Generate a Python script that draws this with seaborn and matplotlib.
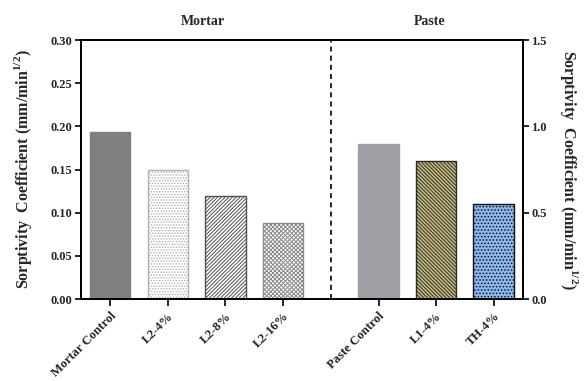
import numpy as np
import pandas as pd
import matplotlib
matplotlib.use("Agg")
import matplotlib.pyplot as plt
import matplotlib.transforms as mtransforms
import seaborn as sns

# Sorptivity coefficients (mm/min^1/2)
mortar_labels = ["Mortar Control", "L2-4%", "L2-8%", "L2-16%"]
mortar_values = [0.193, 0.150, 0.119, 0.088]
paste_labels = ["Paste Control", "L1-4%", "TH-4%"]
paste_values = [0.90, 0.80, 0.55]

left_ticks = [0.00, 0.05, 0.10, 0.15, 0.20, 0.25, 0.30]
right_ticks = [0.0, 0.5, 1.0, 1.5]

sns.set_style("ticks")
plt.rcParams["font.family"] = ["Liberation Serif", "DejaVu Serif"]
plt.rcParams["font.weight"] = "bold"
plt.rcParams["mathtext.fontset"] = "custom"
plt.rcParams["mathtext.rm"] = "Liberation Serif:bold"
plt.rcParams["mathtext.bf"] = "Liberation Serif:bold"
plt.rcParams["hatch.linewidth"] = 0.7

fig = plt.figure(figsize=(5.84, 3.81), dpi=100)
ax = fig.add_axes([0.1387, 0.2152, 0.8955 - 0.1387, 0.895 - 0.2152])
ax2 = ax.twinx()

# bar positions: mortar group, then a gap, then paste group
gap = 1.66
mortar_pos = np.arange(len(mortar_values), dtype=float)
paste_pos = mortar_pos[-1] + gap + np.arange(len(paste_values), dtype=float)

df_m = pd.DataFrame({"pos": mortar_pos, "val": mortar_values, "label": mortar_labels})
df_p = pd.DataFrame({"pos": paste_pos, "val": paste_values, "label": paste_labels})

mortar_fill = ["#7f7f7f", "#ffffff", "#ffffff", "#ffffff"]
mortar_edge = ["#7f7f7f", "#b0b0b0", "#505050", "#8a8a8a"]
mortar_hatch = [None, "......", "/////////", "xxxxxxxx"]
paste_fill = ["#a09fa5", "#c9bd7f", "#8cb8f2"]
paste_edge = ["#a09fa5", "#2a2a2a", "#111111"]
paste_hatch = [None, "\\\\\\\\\\\\\\\\\\", "....."]

sns.barplot(data=df_m, x="pos", y="val", hue="label", palette=mortar_fill,
            native_scale=True, dodge=False, width=0.7, legend=False,
            saturation=1, ax=ax)
sns.barplot(data=df_p, x="pos", y="val", hue="label", palette=paste_fill,
            native_scale=True, dodge=False, width=0.7, legend=False,
            saturation=1, ax=ax2)

for patch, ec, h in zip(ax.patches, mortar_edge, mortar_hatch):
    patch.set_edgecolor(ec)
    patch.set_linewidth(1.0)
    if h:
        patch.set_hatch(h)
for patch, ec, h in zip(ax2.patches, paste_edge, paste_hatch):
    patch.set_edgecolor(ec)
    patch.set_linewidth(1.0)
    if h:
        patch.set_hatch(h)

# group divider
divider_x = (mortar_pos[-1] + paste_pos[0]) / 2
ax.axvline(divider_x, color="black", ls=(0, (3, 2.5)), lw=1.2)

ax.set_xlim(mortar_pos[0] - 0.51, paste_pos[-1] + 0.51)
ax.set_ylim(0, 0.30)
ax2.set_ylim(0, 1.5)

ax.set_yticks(left_ticks)
ax.set_yticklabels([f"{t:.2f}" for t in left_ticks])
ax2.set_yticks(right_ticks)
ax2.set_yticklabels([f"{t:.1f}" for t in right_ticks])

ax.set_xticks(list(mortar_pos) + list(paste_pos))
ax.set_xticklabels(mortar_labels + paste_labels, rotation=45, ha="right",
                   rotation_mode="anchor", fontsize=9.2, fontweight="bold")

ax.tick_params(axis="y", labelsize=9, width=1.4, length=4, pad=2)
ax.tick_params(axis="x", width=1.4, length=5, pad=3)
ax2.tick_params(axis="y", labelsize=9, width=1.4, length=4, pad=2)

for a in (ax, ax2):
    for s in a.spines.values():
        s.set_linewidth(1.4)
        s.set_color("black")

ax.set_xlabel("")
ax.set_ylabel(r"Sorptivity  Coefficient (mm/min$^{1/2}$)", fontsize=11.5,
              fontweight="bold")
ax.yaxis.set_label_coords(-0.106, 0.5)
ax2.set_ylabel(r"Sorptivity  Coefficient (mm/min$^{1/2}$)", fontsize=11.5,
               fontweight="bold", rotation=-90)
ax2.yaxis.set_label_coords(1.13, 0.5)

trans = mtransforms.blended_transform_factory(ax.transData, ax.transAxes)
ax.text(1.6, 1.07, "Mortar", transform=trans, ha="center", va="center",
        fontsize=10, fontweight="bold")
ax.text(5.55, 1.07, "Paste", transform=trans, ha="center", va="center",
        fontsize=10, fontweight="bold")

fig.savefig("out.png", dpi=100)
